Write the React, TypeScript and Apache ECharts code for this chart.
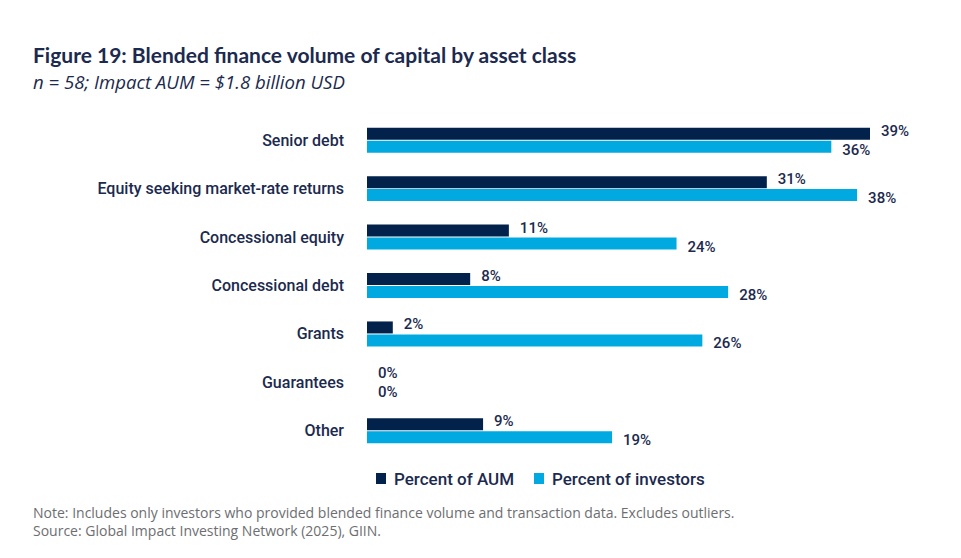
import * as echarts from 'echarts';
import React, { useEffect, useRef } from 'react';

// 차트 데이터
const categories = [
  'Senior debt',
  'Equity seeking market-rate returns',
  'Concessional equity',
  'Concessional debt',
  'Grants',
  'Guarantees',
  'Other',
];
const percentOfAum = [39, 31, 11, 8, 2, 0, 9];
const percentOfInvestors = [36, 38, 24, 28, 26, 0, 19];

const NAVY = '#02224b';
const CYAN = '#00a9e0';
const TEXT = '#1b2a4e';
const NARROW = 'Roboto, sans-serif';

export default function App() {
  const chartRef = useRef<HTMLDivElement>(null);

  useEffect(() => {
    document.body.style.margin = '0';
    const chart = echarts.init(chartRef.current, null, { renderer: 'svg' });

    const labelBase = {
      show: true,
      position: 'right',
      distance: 11,
      color: TEXT,
      fontFamily: NARROW,
      fontWeight: 500,
      fontSize: 15,
      formatter: '{c}%',
    };

    chart.setOption({
      animation: false,
      title: {
        text: 'Figure 19: Blended finance volume of capital by asset class',
        subtext: 'n = 58; Impact AUM = $1.8 billion USD',
        left: 28,
        top: 39,
        itemGap: 7,
        textStyle: {
          fontFamily: 'Lato',
          fontWeight: 'bold',
          fontSize: 21,
          color: TEXT,
        },
        subtextStyle: {
          fontFamily: 'Open Sans',
          fontStyle: 'italic',
          fontSize: 18.6,
          color: TEXT,
        },
      },
      legend: {
        left: 371,
        top: 465,
        itemWidth: 10,
        itemHeight: 11,
        itemGap: 20,
        icon: 'rect',
        textStyle: { fontFamily: NARROW, fontWeight: 500, fontSize: 17, color: TEXT, padding: [0, 0, 0, 3] },
        data: ['Percent of AUM', 'Percent of investors'],
      },
      grid: {
        left: 367,
        right: 91,
        top: 116,
        bottom: 103,
        containLabel: false,
      },
      xAxis: {
        type: 'value',
        min: 0,
        max: 39,
        show: false,
      },
      yAxis: {
        type: 'category',
        inverse: true,
        data: categories,
        axisLine: { show: false },
        axisTick: { show: false },
        axisLabel: {
          margin: 23,
          color: TEXT,
          fontFamily: NARROW,
          fontWeight: 500,
          fontSize: 16,
        },
      },
      series: [
        {
          name: 'Percent of AUM',
          type: 'bar',
          data: percentOfAum,
          barWidth: 12,
          barGap: '8%',
          itemStyle: { color: NAVY },
          label: { ...labelBase, offset: [0, -3] },
        },
        {
          name: 'Percent of investors',
          type: 'bar',
          data: percentOfInvestors,
          barWidth: 12,
          barGap: '8%',
          itemStyle: { color: CYAN },
          label: { ...labelBase, offset: [0, 3] },
        },
      ],
      graphic: [
        {
          type: 'text',
          left: 33,
          top: 503,
          style: {
            text: 'Note: Includes only investors who provided blended finance volume and transaction data. Excludes outliers.\nSource: Global Impact Investing Network (2025), GIIN.',
            fontFamily: 'Open Sans',
            fontSize: 14,
            lineHeight: 18,
            fill: '#6d6e71',
          },
        },
      ],
    });

    return () => {
      chart.dispose();
    };
  }, []);

  return (
    <div
      ref={chartRef}
      style={{ position: 'absolute', left: 0, top: 0, width: 961, height: 558, background: '#fff' }}
    ></div>
  );
}
